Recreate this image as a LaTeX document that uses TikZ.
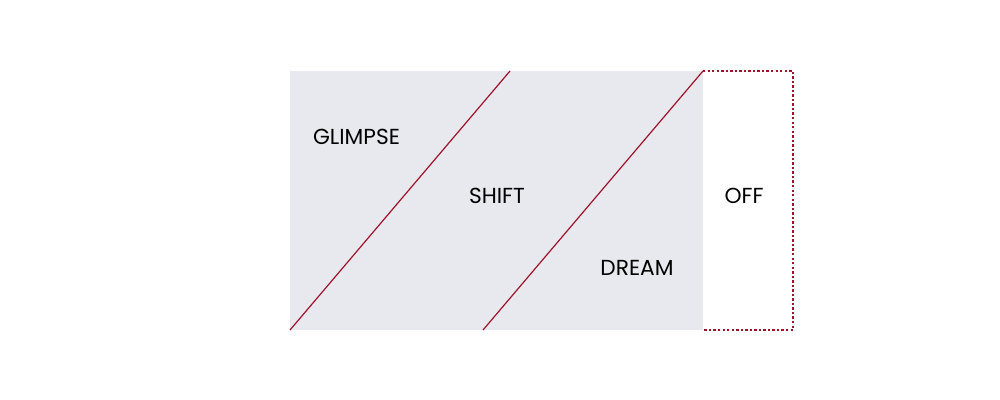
\documentclass[tikz,border=0pt]{standalone}
\usepackage{fontspec}
\setmainfont{Poppins}
\definecolor{panelgray}{RGB}{232,233,238}
\definecolor{cutred}{RGB}{160,18,42}
\begin{document}
\begin{tikzpicture}[x=0.75pt,y=0.75pt,yscale=-1,xscale=1,
  zonetext/.style={inner sep=0.75pt, font=\fontsize{16.3}{19}\selectfont},
  cutline/.style={color=cutred, line width=0.9}]
\useasboundingbox (0,0) rectangle (1000,400);

%Shape: Rectangle [id:panel]
\fill [color=panelgray] (290,71) rectangle (703,330) ;
%Straight Lines [id:cutone]
\draw [cutline]   (290,330) -- (510,71) ;
%Straight Lines [id:cuttwo]
\draw [cutline]   (483,330) -- (703,71) ;
%Dotted Frame [id:offbox]
\draw [color=cutred, line width=1.4, dash pattern=on 1.8pt off 1.6pt]   (703,71) -- (793,71) -- (793,330) -- (703,330) ;

% Text Node
\draw (356.5,137) node [zonetext]  (glimpse) {GLIMPSE};
% Text Node
\draw (497,196) node [zonetext]  (shift) {SHIFT};
% Text Node
\draw (637,268) node [zonetext]  (dream) {DREAM};
% Text Node
\draw (744,196) node [zonetext]  (off) {OFF};

\end{tikzpicture}
\end{document}
